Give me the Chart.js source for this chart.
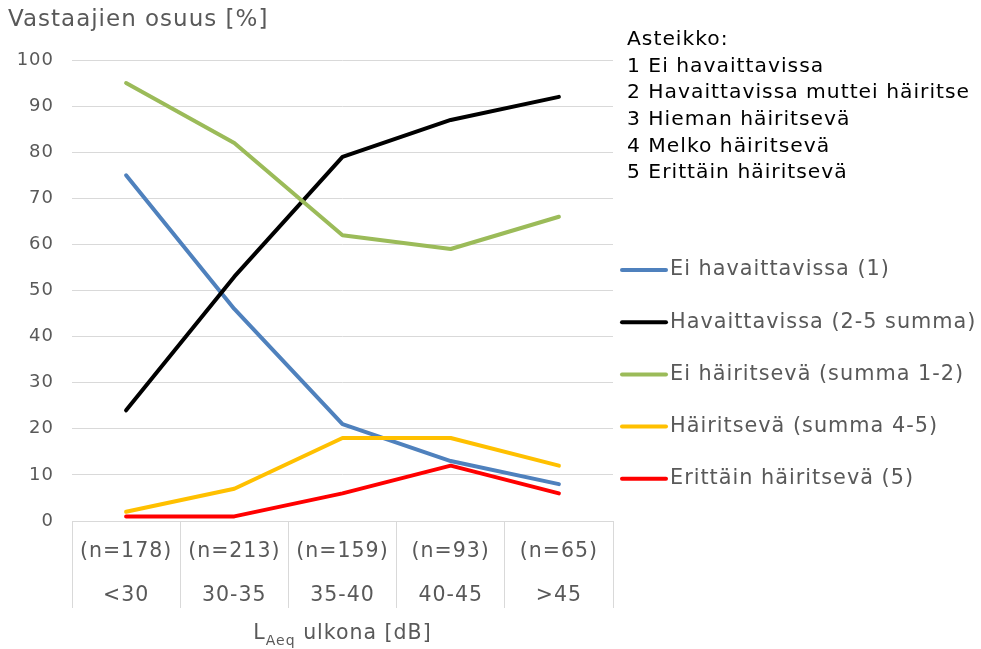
<!DOCTYPE html>
<html lang="fi">
<head>
<meta charset="utf-8">
<title>Vastaajien osuus</title>
<script src="https://cdn.jsdelivr.net/npm/chart.js@4"></script>
<style>
  html, body { margin: 0; padding: 0; background: #fff; }
</style>
</head>
<body>
<canvas id="chart" width="981" height="649"></canvas>
<script>
// categories (two-row axis: sample size over the dB range)
const rangeLabels = ['<30', '30-35', '35-40', '40-45', '>45'];
const nLabels     = ['(n=178)', '(n=213)', '(n=159)', '(n=93)', '(n=65)'];

// series, % of respondents
const eiHavaittavissa    = [75, 46, 21, 13, 8];
const havaittavissa      = [24, 53, 79, 87, 92];
const eiHairitseva       = [95, 82, 62, 59, 66];
const hairitseva         = [2, 7, 18, 18, 12];
const erittainHairitseva = [1, 1, 6, 12, 6];

const seriesNames = ['Ei havaittavissa (1)', 'Havaittavissa (2-5 summa)', 'Ei häiritsevä (summa 1-2)', 'Häiritsevä (summa 4-5)', 'Erittäin häiritsevä (5)'];
const seriesColors = ['#4f81bd', '#000000', '#9bbb59', '#ffc000', '#ff0000'];

const yTicks = [0, 10, 20, 30, 40, 50, 60, 70, 80, 90, 100];

const scaleNotes = ['Asteikko:', '1 Ei havaittavissa', '2 Havaittavissa muttei häiritse', '3 Hieman häiritsevä', '4 Melko häiritsevä', '5 Erittäin häiritsevä'];

const FONT = "'DejaVu Sans', Verdana, sans-serif";
const GREY = '#595959';
const GRID = '#d9d9d9';

// Excel-ish spaced text
const spacing = {
  id: 'spacing',
  beforeUpdate(chart) { chart.ctx.letterSpacing = '1px'; },
  beforeDraw(chart) { chart.ctx.letterSpacing = '1px'; }
};

// side notes, legend and the x-axis title with subscript
const sideText = {
  id: 'sideText',
  afterDraw(chart) {
    const ctx = chart.ctx;
    const area = chart.chartArea;
    ctx.save();
    ctx.letterSpacing = '1px';
    ctx.textAlign = 'left';
    ctx.textBaseline = 'middle';

    ctx.font = `20.3px ${FONT}`;
    ctx.fillStyle = '#000';
    scaleNotes.forEach((t, i) => ctx.fillText(t, 627, 40 + i * 26.6));

    chart.data.datasets.forEach((ds, i) => {
      const y = 270 + i * 52.2;
      ctx.strokeStyle = ds.borderColor;
      ctx.lineWidth = 4;
      ctx.lineCap = 'round';
      ctx.beginPath(); ctx.moveTo(622, y); ctx.lineTo(666, y); ctx.stroke();
      ctx.fillStyle = GREY;
      ctx.font = `20.8px ${FONT}`;
      ctx.fillText(ds.label, 670, y);
    });

    ctx.textBaseline = 'alphabetic';
    ctx.fillStyle = GREY;
    const big = `20.5px ${FONT}`, small = `14px ${FONT}`;
    ctx.font = big;  const wL = ctx.measureText('L').width;
    const rest = ' ulkona [dB]'; const wR = ctx.measureText(rest).width;
    ctx.font = small; const wS = ctx.measureText('Aeq').width;
    let x0 = (area.left + area.right) / 2 - (wL + wS + wR) / 2;
    ctx.font = big;   ctx.fillText('L', x0, 639);
    ctx.font = small; ctx.fillText('Aeq', x0 + wL, 645);
    ctx.font = big;   ctx.fillText(rest, x0 + wL + wS, 639);
    ctx.restore();
  }
};

const seriesData = [eiHavaittavissa, havaittavissa, eiHairitseva, hairitseva, erittainHairitseva];

new Chart(document.getElementById('chart'), {
  type: 'line',
  data: {
    labels: rangeLabels.map((r, i) => [nLabels[i], r]),
    datasets: seriesData.map((d, i) => ({
      label: seriesNames[i],
      data: d,
      borderColor: seriesColors[i],
      backgroundColor: seriesColors[i],
      borderWidth: 4,
      pointRadius: 0,
      tension: 0,
      borderCapStyle: 'round',
      borderJoinStyle: 'round',
      order: seriesData.length - i
    }))
  },
  options: {
    responsive: false,
    animation: false,
    layout: { padding: { left: 8, right: 368, top: 0, bottom: 0 } },
    plugins: {
      legend: { display: false },
      tooltip: { enabled: false },
      title: {
        display: true,
        text: 'Vastaajien osuus [%]',
        align: 'start',
        color: GREY,
        font: { family: FONT, size: 23, weight: 'normal', lineHeight: 1.2 },
        padding: { top: 6, bottom: 26.4 }
      }
    },
    scales: {
      x: {
        offset: true,
        grid: { offset: true, drawOnChartArea: false, drawTicks: true, tickLength: 87, color: GRID, lineWidth: 1 },
        border: { display: true, color: GRID, width: 1 },
        ticks: {
          autoSkip: false, maxRotation: 0, minRotation: 0,
          padding: -78,
          color: GREY,
          font: { family: FONT, size: 20.5, lineHeight: 44 / 20.5 }
        },
        afterFit: s => { s.height = 128; }
      },
      y: {
        min: 0, max: 100,
        afterBuildTicks: s => { s.ticks = yTicks.map(v => ({ value: v })); },
        grid: { color: GRID, lineWidth: 1, drawTicks: false },
        border: { display: false },
        ticks: { padding: 18, color: GREY, font: { family: FONT, size: 18 } },
        afterFit: s => { s.width = 64; }
      }
    }
  },
  plugins: [spacing, sideText]
});
</script>
</body>
</html>
